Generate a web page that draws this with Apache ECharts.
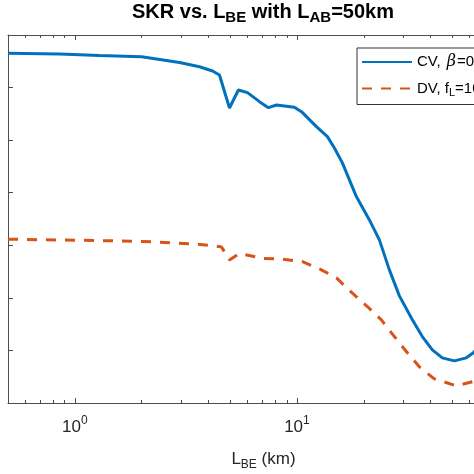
<!DOCTYPE html>
<html><head><meta charset="utf-8">
<script src="https://cdn.jsdelivr.net/npm/echarts@6/dist/echarts.min.js"></script>
<style>html,body{margin:0;padding:0;background:#fff}#c{width:474px;height:474px}</style>
</head><body><div id="c"></div>
<script>
// L_BE (km)
const cvX = [0.5, 0.853, 1.29, 2.0, 2.96, 3.64, 4.17, 4.48, 4.97, 5.45, 5.99, 6.78, 7.44, 8.09, 9.74, 10.48, 12.24, 13.72, 14.75, 16.02, 18.52, 21.2, 23.51, 26.08, 28.93, 33.09, 36.7, 40.71, 45.16, 51.13, 57.91, 62.28, 73.5, 100];
const cvY = [6.652, 6.639, 6.61, 6.586, 6.477, 6.397, 6.316, 6.24, 5.612, 5.954, 5.903, 5.732, 5.618, 5.669, 5.626, 5.542, 5.257, 5.067, 4.852, 4.567, 3.926, 3.483, 3.103, 2.532, 2.038, 1.582, 1.264, 1.011, 0.859, 0.802, 0.859, 0.954, 1.30, 2.15];
const dvX = [0.5, 1.29, 2.0, 3.39, 4.17, 4.57, 4.97, 5.51, 6.99, 8.6, 10.58, 12.89, 15.06, 17.77, 20.76, 24.0, 27.47, 31.1, 35.58, 41.56, 52.2, 62.28, 73.5, 100];
const dvY = [3.116, 3.089, 3.074, 3.027, 2.994, 2.97, 2.722, 2.846, 2.751, 2.736, 2.69, 2.532, 2.38, 2.089, 1.835, 1.582, 1.264, 0.979, 0.688, 0.46, 0.327, 0.409, 0.593, 1.106];
const majorTicks = [1, 10, 100];
const minorTicks = [0.5, 0.6, 0.7, 0.8, 0.9, 2, 3, 4, 5, 6, 7, 8, 9, 20, 30, 40, 50, 60, 70, 80, 90];
const seriesNames = ['CV', 'DV'];
const legendTexts = {CV: '{t|CV, }{i|β}{t|=0.95}', DV: '{t|DV, f}{s|L}{t|=100 MHz}'};

const axisCol = '#4d4d4d';
const FONT = 'Liberation Sans, Arial, sans-serif';
function xAx(pos, ticks, len, showLine, showLabel) {
  return {
    type: 'log', min: 0.5, max: 100, logBase: 10, position: pos,
    axisLine: {show: showLine, lineStyle: {color: axisCol, width: 1}},
    axisTick: {show: true, inside: true, length: len, customValues: ticks, lineStyle: {color: axisCol}},
    axisLabel: showLabel ? {
      show: true, customValues: majorTicks, margin: 12, fontFamily: FONT,
      formatter: v => '{b|10}{s|' + Math.round(Math.log10(v)) + '}',
      rich: {b: {fontSize: 17, color: '#262626', fontFamily: FONT},
             s: {fontSize: 12, color: '#262626', fontFamily: FONT, padding: [0, 0, 12, 0]}}
    } : {show: false},
    splitLine: {show: false}, minorTick: {show: false}
  };
}
const xa0 = xAx('bottom', majorTicks, 5, true, true);
xa0.name = '{t|L}{s|BE}{t| (km)}';
xa0.nameLocation = 'middle';
xa0.nameGap = 44;
xa0.nameTextStyle = {fontFamily: FONT, rich: {
  t: {fontSize: 17, color: '#262626', fontFamily: FONT},
  s: {fontSize: 12, color: '#262626', fontFamily: FONT, padding: [12, 0, 0, 0]}}};

const chart = echarts.init(document.getElementById('c'), null, {renderer: 'canvas'});
chart.setOption({
  animation: false,
  backgroundColor: '#fff',
  title: {
    text: '{t|SKR vs. L}{s|BE}{t| with L}{s|AB}{t|=50km}',
    left: 132, top: 0, padding: 0,
    textStyle: {fontFamily: FONT, rich: {
      t: {fontSize: 20, fontWeight: 'bold', color: '#000', fontFamily: FONT},
      s: {fontSize: 15, fontWeight: 'bold', color: '#000', fontFamily: FONT, padding: [10, 0, 0, 0]}}}
  },
  grid: {left: 8, top: 35, right: -45, bottom: 71, outerBoundsMode: 'none', containLabel: false},
  legend: {
    orient: 'vertical', left: 357, top: 48, padding: [6, 12, 6, 4],
    itemWidth: 50, itemHeight: 14, itemGap: 11,
    borderColor: '#333', borderWidth: 1, backgroundColor: '#fff',
    itemStyle: {opacity: 0},
    data: seriesNames,
    formatter: n => legendTexts[n],
    textStyle: {fontFamily: FONT, rich: {
      t: {fontSize: 15, color: '#000', fontFamily: FONT},
      i: {fontSize: 16, color: '#000', fontStyle: 'italic', fontFamily: 'DejaVu Serif, serif', padding: [0, 1, 0, 2]},
      s: {fontSize: 11, color: '#000', fontFamily: FONT, padding: [9, 0, 0, 0]}}}
  },
  xAxis: [
    xa0,
    xAx('bottom', minorTicks, 3, false, false),
    xAx('top', majorTicks, 5, true, false),
    xAx('top', minorTicks, 3, false, false)
  ],
  yAxis: [{
    type: 'value', min: 0, max: 7, interval: 1, position: 'left',
    axisLine: {show: true, lineStyle: {color: axisCol}},
    axisTick: {show: true, inside: true, length: 5, lineStyle: {color: axisCol}},
    axisLabel: {show: false}, splitLine: {show: false}
  }, {
    type: 'value', min: 0, max: 7, interval: 1, position: 'right',
    axisLine: {show: true, lineStyle: {color: axisCol}},
    axisTick: {show: true, inside: true, length: 5, lineStyle: {color: axisCol}},
    axisLabel: {show: false}, splitLine: {show: false}
  }],
  series: [
    {name: 'CV', type: 'line', xAxisIndex: 0, yAxisIndex: 0, symbol: 'none', smooth: false,
     data: cvX.map((x, i) => [x, cvY[i]]),
     lineStyle: {color: '#0072BD', width: 3}, itemStyle: {color: '#0072BD'}},
    {name: 'DV', type: 'line', xAxisIndex: 0, yAxisIndex: 0, symbol: 'none', smooth: false,
     data: dvX.map((x, i) => [x, dvY[i]]),
     lineStyle: {color: '#D95319', width: 3, type: [10, 9]}, itemStyle: {color: '#D95319'}}
  ]
});
</script></body></html>
